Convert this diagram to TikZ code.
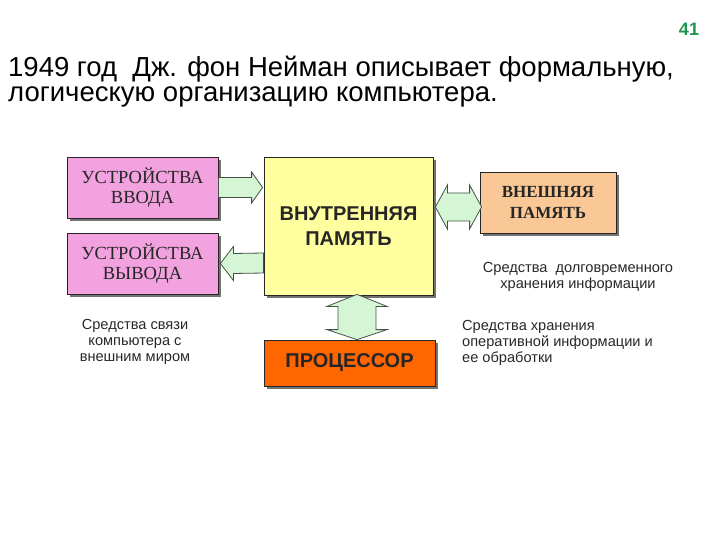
\documentclass[tikz,border=0pt]{standalone}
\usepackage{fontspec}
\setmainfont{Liberation Sans}
\newfontfamily\serifru{Liberation Serif}
\usetikzlibrary{shadows,calc}
\definecolor{pinkbox}{RGB}{242,162,222}
\definecolor{yellowbox}{RGB}{255,255,160}
\definecolor{peachbox}{RGB}{250,200,150}
\definecolor{orangebox}{RGB}{255,102,0}
\definecolor{arrowfill}{RGB}{212,246,212}
\definecolor{arrowline}{RGB}{70,80,70}
\definecolor{pagegreen}{RGB}{30,150,80}
\definecolor{notegray}{RGB}{40,40,40}
\tikzset{
  box/.style={draw=black!85, line width=0.8pt, inner sep=0pt, align=center,
    drop shadow={shadow xshift=3pt, shadow yshift=-3pt, fill=black!55, opacity=1}},
  blockarrow/.style={draw=arrowline, line width=0.8pt, fill=arrowfill, line join=miter},
  note/.style={inner sep=0pt, align=center, text=notegray, font=\fontsize{14.6}{16}\selectfont},
  serifbox/.style={font=\serifru\fontsize{18.5}{20}\selectfont, text=black!85},
  serifboldbox/.style={font=\serifru\bfseries\fontsize{17}{21}\selectfont, text=black!85},
  sansbox/.style={font=\bfseries\fontsize{20}{25}\selectfont, text=black!85},
  titletext/.style={anchor=base west, inner sep=0pt, font=\fontsize{27.5}{25}\selectfont}
}
\begin{document}
\begin{tikzpicture}[x=1pt,y=-1pt]
\useasboundingbox (0,0) rectangle (720,540);
% title
\node[titletext] (t1) at (8,77) {1949 год\ \ Дж. фон Нейман описывает формальную,};
\node[titletext] (t2) at (8,102) {логическую организацию компьютера.};
\node[inner sep=0pt, text=pagegreen, font=\bfseries\fontsize{18}{20}\selectfont] (pg) at (689,29) {41};
% boxes
\node[box, serifbox, fill=pinkbox, minimum width=151pt, minimum height=61pt] (in) at (142.5,187.5)
  {УСТРОЙСТВА\\ВВОДА};
\node[box, serifbox, fill=pinkbox, minimum width=151pt, minimum height=61pt] (out) at (142.5,263.5)
  {УСТРОЙСТВА\\ВЫВОДА};
\node[box, sansbox, fill=yellowbox, minimum width=169pt, minimum height=138pt] (mem) at (348.5,226)
  {ВНУТРЕННЯЯ\\ПАМЯТЬ};
\node[box, serifboldbox, fill=peachbox, minimum width=136pt, minimum height=61pt] (ext) at (548,202.5)
  {ВНЕШНЯЯ\\ПАМЯТЬ};
\node[box, sansbox, fill=orangebox, minimum width=171pt, minimum height=46pt] (cpu) at (349.5,363)
  {ПРОЦЕССОР};
% arrow: input -> memory
\draw[blockarrow]
  ($(in.east)+(0,-10)$) -- ($(mem.west)+(-12,-48.5)$) -- ($(mem.west)+(-12,-54)$)
  -- ($(mem.west)+(-1,-38.5)$) -- ($(mem.west)+(-12,-23)$) -- ($(mem.west)+(-12,-28.5)$)
  -- ($(in.east)+(0,10)$) -- cycle;
% arrow: memory -> output
\draw[blockarrow]
  ($(mem.west)+(0,27)$) -- ($(out.east)+(15,-10)$) -- ($(out.east)+(15,-17)$)
  -- ($(out.east)+(2,0)$) -- ($(out.east)+(15,17)$) -- ($(out.east)+(15,10)$)
  -- ($(mem.west)+(0,47)$) -- cycle;
% double arrow: memory <-> external memory
\coordinate (hl) at ($(mem.east)+(2,-19)$);
\coordinate (hr) at ($(ext.west)+(2,4.5)$);
\draw[blockarrow]
  (hl) -- ++(12,-22) -- ++(0,8) -- ($(hr)+(-12,-14)$) -- ++(0,-8) -- (hr)
  -- ++(-12,22) -- ++(0,-8) -- ($(hl)+(12,14)$) -- ++(0,8) -- cycle;
% double arrow: memory <-> processor
\coordinate (vt) at ($(mem.south)+(8.5,-1)$);
\coordinate (vb) at ($(cpu.north)+(7.5,0)$);
\draw[blockarrow]
  (vt) -- ++(30,12) -- ++(-11,0) -- ($(vb)+(19,-10)$) -- ++(11,0) -- (vb)
  -- ++(-30,-10) -- ++(11,0) -- ($(vt)+(-19,12)$) -- ++(-11,0) -- cycle;
% notes (anchor base = baseline of the last line)
\node[note, anchor=base] (n1) at (135,361) {Средства связи\\компьютера с\\внешним миром};
\node[note, anchor=base] (n2) at (578,288) {Средства\ \ долговременного\\хранения информации};
\node[note, anchor=base west, align=left] (n3) at (462,362) {Средства хранения\\оперативной информации и\\ее обработки};
\end{tikzpicture}
\end{document}
